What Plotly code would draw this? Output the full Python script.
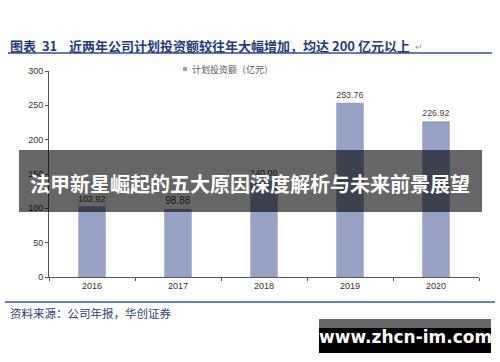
import plotly.graph_objects as go

years = ["2016", "2017", "2018", "2019", "2020"]
invest = [102.92, 98.88, 140.0, 253.76, 226.92]
y_ticks = [0, 50, 100, 150, 200, 250, 300]

title_text = "<b>图表  31    近两年公司计划投资额较往年大幅增加，均达 200 亿元以上</b>"
legend_text = "计划投资额（亿元）"
source_text = "资料来源：公司年报，华创证券"
banner_text = "<b>法甲新星崛起的五大原因深度解析与未来前景展望</b>"
watermark_text = "<b>www.zhcn-im.com</b>"

W, H = 500, 362
PL, PR, PT, PB = 49, 479, 71, 277  # plot area in pixels


def px(x):
    return (x - PL) / (PR - PL)


def py(y):
    return (PB - y) / (PB - PT)


CJK = "Noto Sans CJK SC"

fig = go.Figure()
fig.add_trace(go.Bar(
    x=years, y=invest, width=0.32,
    marker=dict(color="#96a3c7", line=dict(width=0)),
    text=[f"{v:.2f}" for v in invest], textposition="outside",
    textfont=dict(size=10, color="#404040", family="Liberation Sans"),
    cliponaxis=False, showlegend=False,
))

fig.update_layout(
    width=W, height=H,
    margin=dict(l=PL, r=W - PR, t=PT, b=H - PB),
    plot_bgcolor="white", paper_bgcolor="white",
    xaxis=dict(showline=True, linecolor="#555", linewidth=1, ticks="outside",
               tickson="boundaries", ticklen=3, tickcolor="#555",
               tickfont=dict(size=9, color="#333", family="Liberation Sans"),
               showgrid=False, fixedrange=True),
    yaxis=dict(range=[0, 300], tickvals=y_ticks, showline=True, linecolor="#555",
               linewidth=1, ticks="outside", ticklen=3, tickcolor="#555",
               tickfont=dict(size=9, color="#333", family="Liberation Sans"),
               showgrid=False, zeroline=False, fixedrange=True),
)

shapes = []
ann = []

# title + underline
ann.append(dict(x=px(8), y=py(45), xref="paper", yref="paper", xanchor="left", yanchor="middle",
                text=title_text, showarrow=False,
                font=dict(size=13, color="#1f3b78", family=CJK)))
ann.append(dict(x=px(413), y=py(46), xref="paper", yref="paper", xanchor="left", yanchor="middle",
                text="↵", showarrow=False, font=dict(size=9, color="#999", family=CJK)))
shapes.append(dict(type="line", xref="paper", yref="paper", x0=px(8), x1=px(492), y0=py(53), y1=py(53),
                   line=dict(color="#2f4f8f", width=1.5)))

# legend
shapes.append(dict(type="rect", xref="paper", yref="paper", x0=px(183), x1=px(187), y0=py(67), y1=py(71),
                   fillcolor="#96a3c7", line=dict(width=0)))
ann.append(dict(x=px(190), y=py(69), xref="paper", yref="paper", xanchor="left", yanchor="middle",
                text=legend_text, showarrow=False, font=dict(size=9, color="#555", family=CJK)))

# footer line + source
shapes.append(dict(type="line", xref="paper", yref="paper", x0=px(5), x1=px(495), y0=py(302), y1=py(302),
                   line=dict(color="#3b5a94", width=1.5)))
ann.append(dict(x=px(8), y=py(313), xref="paper", yref="paper", xanchor="left", yanchor="middle",
                text=source_text, showarrow=False, font=dict(size=11.5, color="#2a3f6e", family=CJK)))

# banner overlay
shapes.append(dict(type="rect", xref="paper", yref="paper", x0=px(19), x1=px(482), y0=py(150), y1=py(212),
                   fillcolor="rgba(0,0,0,0.6)", line=dict(width=0), layer="above"))
ann.append(dict(x=px(250), y=py(183), xref="paper", yref="paper", xanchor="center", yanchor="middle",
                text=banner_text, showarrow=False, font=dict(size=20, color="white", family=CJK)))

# watermark
shapes.append(dict(type="rect", xref="paper", yref="paper", x0=px(319), x1=px(491), y0=py(319), y1=py(328),
                   fillcolor="#666666", line=dict(width=0), layer="above"))
shapes.append(dict(type="rect", xref="paper", yref="paper", x0=px(319), x1=px(491), y0=py(328), y1=py(353),
                   fillcolor="black", line=dict(width=0), layer="above"))
ann.append(dict(x=px(405), y=py(337), xref="paper", yref="paper", xanchor="center", yanchor="middle",
                text=watermark_text, showarrow=False, font=dict(size=17, color="white", family="DejaVu Sans")))

fig.update_layout(shapes=shapes, annotations=ann)
fig.write_html("out.html", config={"displayModeBar": False},
               post_script="document.body.style.margin='0';")
